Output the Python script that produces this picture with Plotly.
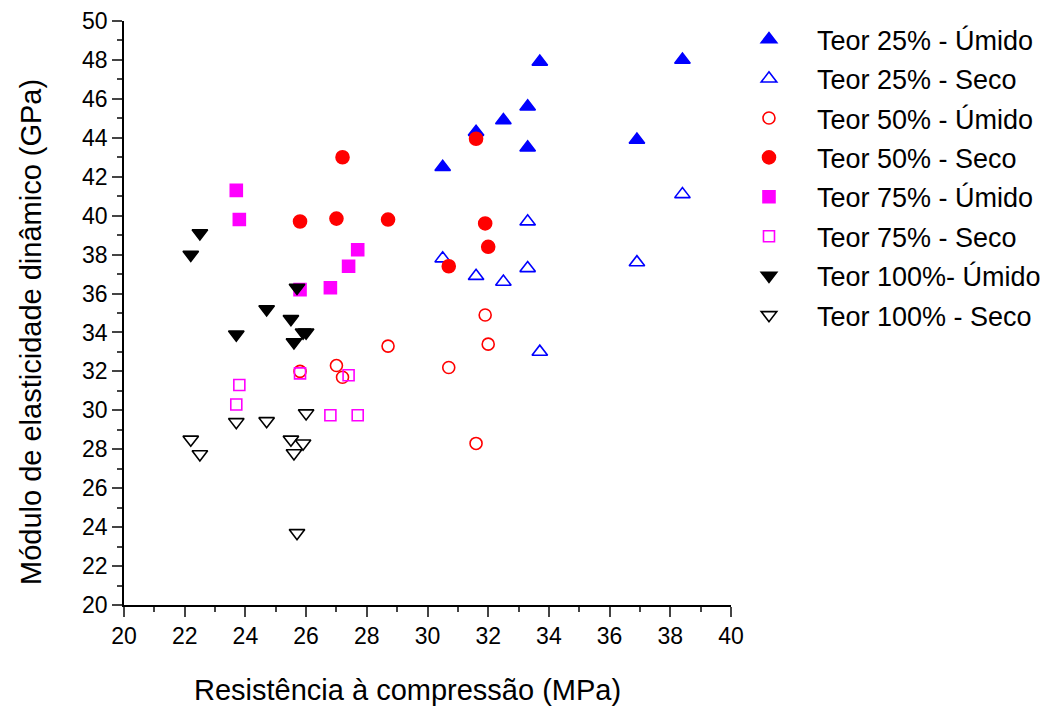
import plotly.graph_objects as go

# Teor 25%
x_25u = [30.5, 31.6, 32.5, 33.3, 33.3, 33.7, 36.9, 38.4]
y_25u = [42.5, 44.3, 44.9, 45.6, 43.5, 47.9, 43.9, 48.0]
x_25s = [30.5, 31.6, 32.5, 33.3, 33.3, 33.7, 36.9, 38.4]
y_25s = [37.8, 36.9, 36.6, 37.3, 39.7, 33.0, 37.6, 41.1]
# Teor 50%
x_50u = [25.8, 27.0, 27.2, 28.7, 30.7, 31.6, 31.9, 32.0]
y_50u = [32.0, 32.3, 31.7, 33.3, 32.2, 28.3, 34.9, 33.4]
x_50s = [25.8, 27.0, 27.2, 28.7, 30.7, 31.6, 31.9, 32.0]
y_50s = [39.7, 39.85, 43.0, 39.8, 37.4, 43.95, 39.6, 38.4]
# Teor 75%
x_75u = [23.7, 23.8, 25.8, 26.8, 27.4, 27.7]
y_75u = [41.3, 39.8, 36.2, 36.3, 37.4, 38.25]
x_75s = [23.7, 23.8, 25.8, 26.8, 27.4, 27.7]
y_75s = [30.3, 31.3, 31.9, 29.75, 31.8, 29.75]
# Teor 100%
x_100u = [22.2, 22.5, 23.7, 24.7, 25.5, 25.6, 25.7, 25.9, 26.0]
y_100u = [38.0, 39.1, 33.9, 35.2, 34.7, 33.5, 36.3, 34.0, 34.0]
x_100s = [22.2, 22.5, 23.7, 24.7, 25.5, 25.6, 25.7, 25.9, 26.0]
y_100s = [28.5, 27.75, 29.4, 29.45, 28.5, 27.8, 23.7, 28.3, 29.85]

names = ["Teor 25% - Úmido", "Teor 25% - Seco", "Teor 50% - Úmido", "Teor 50% - Seco",
         "Teor 75% - Úmido", "Teor 75% - Seco", "Teor 100%- Úmido", "Teor 100% - Seco"]
x_title = "Resistência à compressão (MPa)"
y_title = "Módulo de elasticidade dinâmico (GPa)"

FONT = "Liberation Sans, Arial, sans-serif"

series = [
    (x_25u, y_25u, "triangle-up", "#0000FF", 13.5),
    (x_25s, y_25s, "triangle-up-open", "#0000FF", 13.5),
    (x_50u, y_50u, "circle-open", "#FF0000", 12),
    (x_50s, y_50s, "circle", "#FF0000", 13),
    (x_75u, y_75u, "square", "#FF00FF", 12),
    (x_75s, y_75s, "square-open", "#FF00FF", 11),
    (x_100u, y_100u, "triangle-down", "#000000", 13.5),
    (x_100s, y_100s, "triangle-down-open", "#000000", 13.5),
]

fig = go.Figure()
for i, (xs, ys, sym, col, sz) in enumerate(series):
    fig.add_trace(go.Scatter(
        x=xs, y=ys, mode="markers", name=names[i], legendgroup=str(i),
        marker=dict(symbol=sym, color=col, size=sz, line=dict(color=col, width=1.6)),
    ))

axis_common = dict(ticks="outside", ticklen=10, tickwidth=1.5, showline=True, linecolor="black",
                   linewidth=1.5, showgrid=False, zeroline=False, automargin=False,
                   tickfont=dict(size=23, family=FONT, color="black"),
                   minor=dict(dtick=1, ticks="outside", ticklen=5, tickwidth=1.5, showgrid=False))
mirror_common = dict(dtick=1, ticks="inside", ticklen=4, tickwidth=1.5, showticklabels=False,
                     showline=True, linecolor="black", linewidth=1.5, showgrid=False,
                     zeroline=False, automargin=False)

fig.update_layout(
    width=1063, height=709,
    margin=dict(l=124, r=332, t=21, b=104),
    paper_bgcolor="white", plot_bgcolor="white",
    font=dict(family=FONT, color="black"),
    showlegend=True,
    legend=dict(x=0.9835, y=1.01, xanchor="left", yanchor="top",
                font=dict(size=27, family=FONT, color="black"),
                itemwidth=86, tracegroupgap=1.3, bgcolor="rgba(0,0,0,0)"),
    xaxis=dict(range=[20, 40], dtick=2, tick0=20, **axis_common),
    yaxis=dict(range=[20, 50], dtick=2, tick0=20, **axis_common),
    xaxis2=dict(overlaying="x", side="top", anchor="y", range=[20, 40], tick0=20, **mirror_common),
    yaxis2=dict(overlaying="y", side="right", anchor="x", range=[20, 50], tick0=20, **mirror_common),
    annotations=[
        dict(text=x_title, xref="paper", yref="paper", x=(407 - 124) / 607, y=-(690 - 605) / 584,
             xanchor="center", yanchor="middle", showarrow=False,
             font=dict(size=29, family=FONT, color="black")),
        dict(text=y_title, xref="paper", yref="paper", x=-(124 - 31) / 607, y=(605 - 332) / 584,
             xanchor="center", yanchor="middle", showarrow=False, textangle=-90,
             font=dict(size=29, family=FONT, color="black")),
    ],
)

fig.write_html("out.html")
